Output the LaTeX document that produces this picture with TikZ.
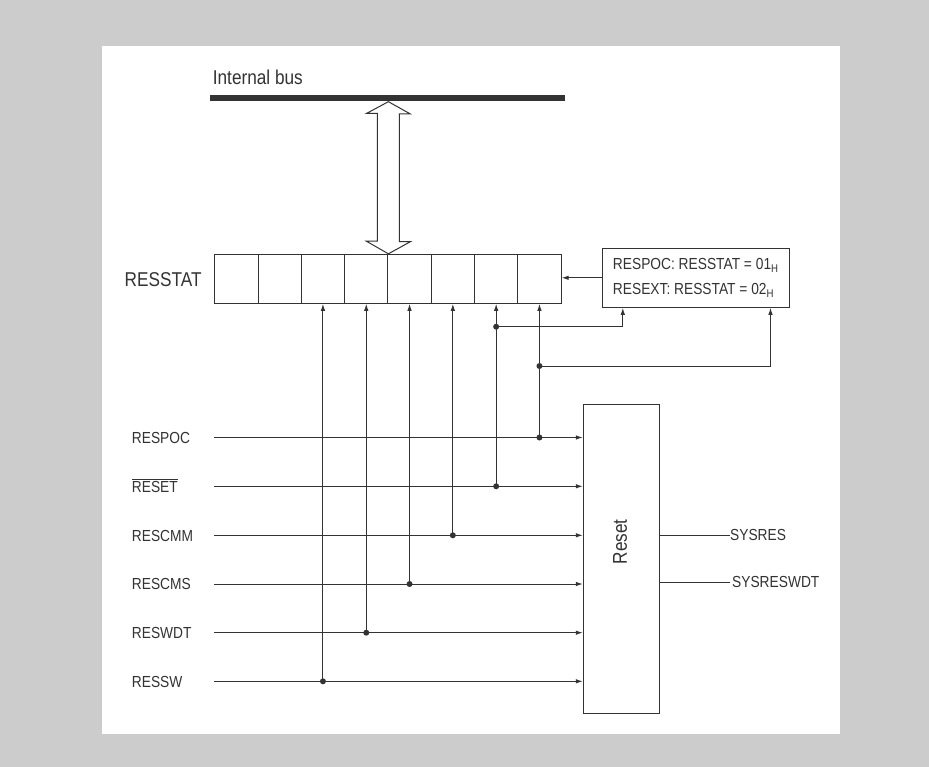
\documentclass[tikz,border=0pt]{standalone}
\usepackage{fontspec}
\setmainfont{Liberation Sans}[FakeStretch=0.86]
\usetikzlibrary{arrows.meta}
\definecolor{bg}{HTML}{CCCCCC}
\definecolor{ink}{HTML}{333333}
\begin{document}
\begin{tikzpicture}[x=1pt,y=-1pt,
  line/.style={draw=ink,line width=1pt},
  arr/.style={line,-{Latex[length=7pt,width=4.5pt]}},
  cell/.style={draw=ink,line width=1pt,minimum width=43.3pt,minimum height=49pt,inner sep=0pt},
  sig/.style={text=ink,font=\fontsize{16}{16}\selectfont,inner sep=0pt},
  big/.style={text=ink,font=\fontsize{20}{20}\selectfont,inner sep=0pt}]
\useasboundingbox (0,0) rectangle (929,767);
\fill[bg] (0,0) rectangle (929,767);
\fill[white] (102,46) rectangle (840,734);

% internal bus
\node[big,anchor=base west] (buslbl) at (212.7,85) {Internal bus};
\coordinate (busL) at (210,97.8);
\coordinate (busR) at (565,97.8);
\draw[ink,line width=5.7pt] (busL) -- (busR);

% register cells
\foreach \i in {0,...,7}
  \node[cell] (c\i) at ({236.35+43.3*\i},278.8) {};
\node[big,anchor=base east] (rs) at (201.7,286.7) {RESSTAT};

% hollow double arrow
\coordinate (tipB) at (c3.north east);
\coordinate (tipT) at (tipB |- busL);
\draw[line,fill=white]
  (tipT) ++(0,3.9) -- ++(22,12.3) -- ++(-11,0) -- ++(0,127.7) -- ++(11,0)
  -- (tipB) -- ++(-22,-12.6) -- ++(11,0) -- ++(0,-127.7) -- ++(-11,0) -- cycle;

% status box
\node[draw=ink,line width=1pt,minimum width=187pt,minimum height=59pt,
  align=left,inner xsep=8.5pt,inner ysep=0pt,text=ink,
  font=\fontsize{16}{25}\selectfont] (stat) at (695.8,277.8)
  {RESPOC: RESSTAT = 01\textsubscript{H}\\RESEXT: RESSTAT = 02\textsubscript{H}};
\draw[arr] (stat.west) -- (stat.west -| c7.east);

% reset block
\node[draw=ink,line width=1pt,minimum width=75.7pt,minimum height=309pt] (reset) at (621.2,558.8) {};
\node[big,rotate=90] (resetlbl) at (620,541.7) {Reset};

% inputs
\foreach \n/\t/\y/\c in {1/RESPOC/437.5/7,2/{$\overline{\hbox{RESET}}$}/486.3/6,3/RESCMM/535.3/5,4/RESCMS/584/4,5/RESWDT/632.7/3,6/RESSW/681.3/2}{
  \node[sig,anchor=base west] (l\n) at (131.7,\y+5.8) {\t};
  \coordinate (s\n) at (214.3,\y);
  \draw[arr] (s\n) -- (s\n -| reset.west);
  \fill[ink] (s\n -| c\c.south) circle (3pt);
  \draw[arr] (s\n -| c\c.south) -- (c\c.south);
}

% branches to status box
\coordinate (j1) at (c6.south |- 0,326.7);
\coordinate (j2) at (c7.south |- 0,366);
\fill[ink] (j1) circle (3pt);
\fill[ink] (j2) circle (3pt);
\draw[arr] (j1) -| ([xshift=21pt]stat.south west);
\draw[arr] (j2) -| ([xshift=-19.3pt]stat.south east);

% outputs
\node[sig,anchor=west] (sysres) at (730,535) {SYSRES};
\node[sig,anchor=west] (sysreswdt) at (732,582.3) {SYSRESWDT};
\draw[line] (reset.east |- sysres.west) -- (sysres.west);
\draw[line] (reset.east |- sysreswdt.west) -- ([xshift=-2.5pt]sysreswdt.west);
\end{tikzpicture}
\end{document}
